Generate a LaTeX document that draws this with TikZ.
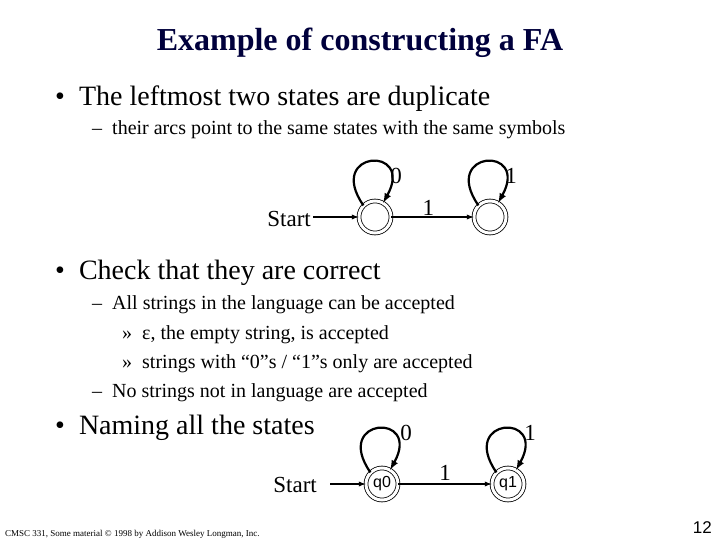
\documentclass[tikz,border=0pt]{standalone}
\usepackage{fontspec}
\setmainfont{Liberation Serif}
\newfontfamily\arial{Liberation Sans}
\definecolor{navy}{RGB}{0,0,60}
\begin{document}
\begin{tikzpicture}[x=1pt,y=-1pt,
  st/.style={circle,draw,line width=0.8pt,double,double distance=3pt,minimum size=32pt,inner sep=0pt,font=\arial\fontsize{16}{16}\selectfont},
  ar/.style={-latex,line width=1.3pt},
  lp/.style={line width=2.2pt},
  lab/.style={font=\fontsize{23}{26}\selectfont},
  tx/.style={anchor=base west,inner sep=0pt}]
\useasboundingbox (0,0) rectangle (720,540);
\node[inner sep=0pt,anchor=base] (title) at (360,51) {\color{navy}\fontsize{32}{36}\selectfont\bfseries Example of constructing a FA};
\node[tx] (b1) at (55,106) {\fontsize{28}{32}\selectfont \textbullet\hspace{14pt}The leftmost two states are duplicate};
\node[tx] (b1a) at (92,135) {\fontsize{20}{24}\selectfont -- \ their arcs point to the same states with the same symbols};
% top FA
\node[st] (a) at (375,217) {};
\node[st] (b) at (490,217) {};
\node[tx,anchor=base east] (s1) at (311,226) {\fontsize{23}{26}\selectfont Start};
\coordinate (s1e) at (313,217);
\draw[ar] (s1e) -- (a);
\draw[ar] (a) -- node[above,pos=0.45,inner sep=1pt,lab]{1} (b);
\draw[lp,-latex] (a.135) .. controls (325,150) and (415,145) .. (a.60);
\node[lab] (l0) at (396,176) {0};
\draw[lp,-latex] (b.135) .. controls (440,150) and (530,145) .. (b.60);
\node[lab] (l1) at (511,176) {1};
\node[tx] (b2) at (55,279) {\fontsize{28}{32}\selectfont \textbullet\hspace{14pt}Check that they are correct};
\node[tx] (c1) at (92,309) {\fontsize{20}{24}\selectfont -- \ All strings in the language can be accepted};
\node[tx] (c2) at (122,339) {\fontsize{20}{24}\selectfont » \ ε, the empty string, is accepted};
\node[tx] (c3) at (122,368) {\fontsize{20}{24}\selectfont » \ strings with “0”s / “1”s only are accepted};
\node[tx] (c4) at (92,397) {\fontsize{20}{24}\selectfont -- \ No strings not in language are accepted};
\node[tx] (b3) at (55,434) {\fontsize{28}{32}\selectfont \textbullet\hspace{14pt}Naming all the states};
% bottom FA
\node[st] (q0) at (382,484) {q0};
\node[st] (q1) at (508,484) {q1};
\node[tx,anchor=base east] (s2) at (317,492) {\fontsize{23}{26}\selectfont Start};
\coordinate (s2e) at (330,484);
\draw[ar] (s2e) -- (q0);
\draw[ar] (q0) -- node[above,pos=0.5,inner sep=3pt,lab]{1} (q1);
\draw[lp,-latex] (q0.135) .. controls (332,417) and (422,412) .. (q0.60);
\node[lab] (m0) at (406,433) {0};
\draw[lp,-latex] (q1.135) .. controls (458,417) and (548,412) .. (q1.60);
\node[lab] (m1) at (530,433) {1};
\node[tx] (foot) at (5,536) {\fontsize{9}{10}\selectfont CMSC 331, Some material © 1998 by Addison Wesley Longman, Inc.};
\node[tx,anchor=base east] (pg) at (712,533) {\arial\fontsize{17}{19}\selectfont 12};
\end{tikzpicture}
\end{document}
